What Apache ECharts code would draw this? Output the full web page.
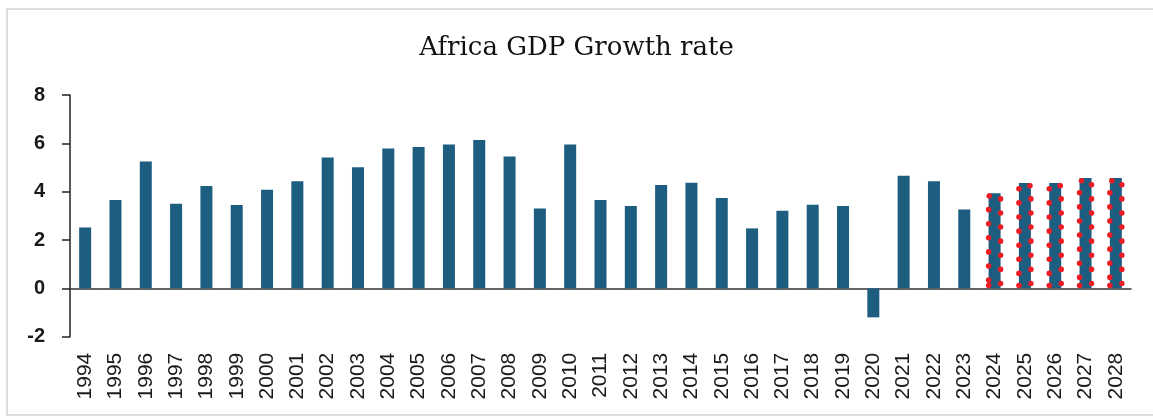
<!DOCTYPE html>
<html>
<head>
<meta charset="utf-8">
<title>Africa GDP Growth rate</title>
<script src="https://cdn.jsdelivr.net/npm/echarts@6/dist/echarts.min.js"></script>
<style>
  html, body { margin: 0; padding: 0; background: #ffffff; }
  #chart { width: 1153px; height: 418px; }
</style>
</head>
<body>
<div id="chart"></div>
<script>
// Africa real GDP growth (%), 1994–2028; the last five years are projections
const years = ['1994','1995','1996','1997','1998','1999','2000','2001','2002','2003',
  '2004','2005','2006','2007','2008','2009','2010','2011','2012','2013',
  '2014','2015','2016','2017','2018','2019','2020','2021','2022','2023',
  '2024','2025','2026','2027','2028'];
const growth = [2.52, 3.66, 5.25, 3.50, 4.24, 3.45, 4.08, 4.43, 5.41, 5.01,
  5.79, 5.85, 5.95, 6.14, 5.46, 3.30, 5.95, 3.66, 3.41, 4.28,
  4.37, 3.74, 2.48, 3.21, 3.46, 3.41, -1.20, 4.66, 4.43, 3.26,
  3.93, 4.36, 4.36, 4.57, 4.57];
const projectedYears = ['2024','2025','2026','2027','2028'];
const yTicks = [-2, 0, 2, 4, 6, 8];

const BAR = '#1c5d80';
const BAR_W = 12;
const DOT = 5.5;

// red dotted outline over the projected years only
const projectedOutline = years.map((y, i) => (projectedYears.includes(y) ? growth[i] : '-'));

const chart = echarts.init(document.getElementById('chart'), null, { renderer: 'canvas' });
chart.setOption({
  animation: false,
  backgroundColor: '#ffffff',
  title: {
    text: 'Africa GDP Growth rate',
    left: 'center',
    top: 30,
    textStyle: {
      fontFamily: 'DejaVu Serif',
      fontWeight: 'normal',
      fontSize: 26,
      color: '#111111'
    }
  },
  graphic: [{
    type: 'rect',
    silent: true,
    shape: { x: 7, y: 9, width: 1300, height: 406 },
    style: { fill: 'none', stroke: '#dedede', lineWidth: 2 }
  }],
  grid: { left: 70, right: 22, top: 95, height: 241.7, containLabel: false },
  xAxis: [{
    type: 'category',
    data: years,
    axisLine: { show: false, onZero: false },
    axisTick: { show: false },
    axisLabel: {
      rotate: 90,
      margin: 16,
      fontFamily: 'Liberation Sans',
      fontSize: 21,
      color: '#1a1a1a'
    }
  }, {
    type: 'category',
    data: years,
    position: 'bottom',
    axisLine: { show: true, onZero: true, lineStyle: { color: '#333333', width: 1.5 } },
    axisTick: { show: false },
    axisLabel: { show: false }
  }],
  yAxis: {
    type: 'value',
    min: yTicks[0],
    max: yTicks[yTicks.length - 1],
    interval: 2,
    axisLine: { show: true, lineStyle: { color: '#222222', width: 1.5 } },
    axisTick: { show: true, length: 8, lineStyle: { color: '#222222', width: 1.5 } },
    splitLine: { show: false },
    axisLabel: {
      margin: 25,
      fontFamily: 'Liberation Sans',
      fontWeight: 'bold',
      fontSize: 20,
      color: '#1a1a1a'
    }
  },
  series: [{
    name: 'GDP growth',
    type: 'bar',
    xAxisIndex: 0,
    data: growth,
    barWidth: BAR_W,
    itemStyle: { color: BAR }
  }, {
    name: 'Projection',
    type: 'bar',
    xAxisIndex: 1,
    data: projectedOutline,
    barWidth: BAR_W + DOT,
    z: 3,
    itemStyle: {
      color: 'rgba(0,0,0,0)',
      borderColor: '#ec1c24',
      borderWidth: DOT,
      borderType: [0.1, 14],
      borderCap: 'round'
    }
  }]
});
</script>
</body>
</html>
